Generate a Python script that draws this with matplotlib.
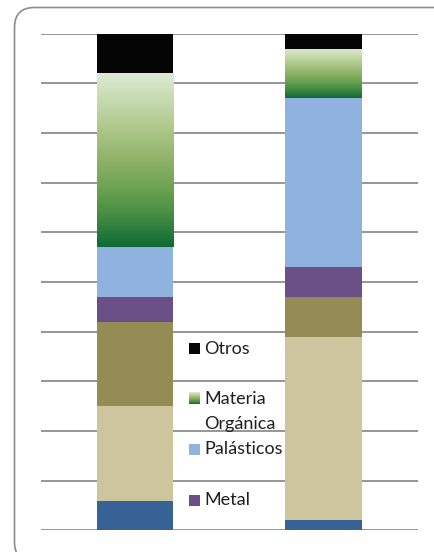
import numpy as np
import matplotlib
matplotlib.use("Agg")
import matplotlib.pyplot as plt
from matplotlib.colors import LinearSegmentedColormap
from matplotlib.patches import FancyBboxPatch, Rectangle

# ---- data (percent, stacked bottom -> top) ----
categories = ["Serie 1", "Serie 2"]
series_names = ["Textiles", "Papel y Cartón", "Vidrio", "Metal",
                "Palásticos", "Materia Orgánica", "Otros"]
textiles = [6, 2]
papel = [19, 37]
vidrio = [17, 8]
metal = [5, 6]
plasticos = [10, 34]
organica = [35, 10]
otros = [8, 3]
series_values = [textiles, papel, vidrio, metal, plasticos, organica, otros]
series_colors = ["#366295", "#cdc59e", "#958b55", "#6a5087",
                 "#8fb3de", None, "#050505"]
legend_entries = ["Otros", "Materia Orgánica", "Palásticos", "Metal"]

W, H = 434, 552
fig = plt.figure(figsize=(W / 100, H / 100), dpi=100)
fig.patch.set_facecolor("white")

# rounded outer frame (pixel coordinates)
frame = FancyBboxPatch((14.5, -10), 440, 545 - (-10) - 0.5,
                       boxstyle="round,pad=0,rounding_size=20",
                       transform=None, facecolor="none",
                       edgecolor="#8c8c8c", linewidth=1.2)
fig.patches.append(frame)

ax_l, ax_r, ax_top, ax_bot = 41, 417.7, 33.7, 530.3
ax = fig.add_axes([ax_l / W, (H - ax_bot) / H, (ax_r - ax_l) / W, (ax_bot - ax_top) / H])
ax.set_facecolor("none")

green_cmap = LinearSegmentedColormap.from_list(
    "org", [(0.0, "#0f6a35"), (0.2, "#4a9045"), (0.35, "#6ea452"),
            (0.5, "#8fb268"), (0.7, "#b0ca8e"), (1.0, "#dcebd4")])

x = np.arange(len(categories))
bw = 0.404
bottom = np.zeros(len(categories))
for name, vals, col in zip(series_names, series_values, series_colors):
    vals = np.array(vals, dtype=float)
    if col is None:
        bars = ax.bar(x, vals, bw, bottom=bottom, color="none", linewidth=0, zorder=3)
        grad = np.linspace(0, 1, 256).reshape(-1, 1)
        for b in bars:
            x0, y0 = b.get_x(), b.get_y()
            im = ax.imshow(grad, cmap=green_cmap, origin="lower", aspect="auto",
                           extent=(x0, x0 + b.get_width(), y0, y0 + b.get_height()),
                           zorder=3, interpolation="bilinear")
            im.set_clip_path(b)
    else:
        ax.bar(x, vals, bw, bottom=bottom, color=col, linewidth=0, zorder=3)
    bottom += vals

ax.set_xlim(-0.5, 1.5)
ax.set_ylim(0, 100)
ax.set_yticks(np.arange(0, 101, 10))
ax.yaxis.grid(True, color="#8e8e8e", linewidth=1.3, zorder=0)
ax.set_axisbelow(True)
ax.tick_params(length=0, labelleft=False, labelbottom=False)
for s in ax.spines.values():
    s.set_visible(False)

# ---- legend (partially visible, as in the reference) ----
def fx(px):
    return (px - ax_l) / (ax_r - ax_l)

def fy(py):
    return (ax_bot - py) / (ax_bot - ax_top)

color_of = dict(zip(series_names, series_colors))
rows = {"Otros": (348.5, ["Otros"]),
        "Materia Orgánica": (398.5, ["Materia", "Orgánica"]),
        "Palásticos": (449.5, ["Palásticos"]),
        "Metal": (500.0, ["Metal"])}
font = dict(family=["Lato", "DejaVu Sans"], size=13, color="#1e1e1e")
for name in legend_entries:
    yc, lines = rows[name]
    m0, m1 = 189.3, 200.3
    if color_of[name] is None:
        grad = np.linspace(0, 1, 64).reshape(-1, 1)
        ax.imshow(grad, cmap=green_cmap, origin="lower", aspect="auto",
                  extent=(fx(m0), fx(m1), fy(yc + 5.5), fy(yc - 5.5)),
                  transform=ax.transAxes, zorder=5, clip_on=False)
    else:
        ax.add_patch(Rectangle((fx(m0), fy(yc + 5.5)), fx(m1) - fx(m0),
                               fy(yc - 5.5) - fy(yc + 5.5),
                               transform=ax.transAxes, facecolor=color_of[name],
                               edgecolor="none", zorder=5, clip_on=False))
    for i, ln in enumerate(lines):
        ax.text(fx(204), fy(yc + i * 25), ln, transform=ax.transAxes,
                va="center", ha="left", zorder=5, **font)

ax.set_xlim(-0.5, 1.5)
ax.set_ylim(0, 100)
fig.savefig("out.png", dpi=100, facecolor="white")
